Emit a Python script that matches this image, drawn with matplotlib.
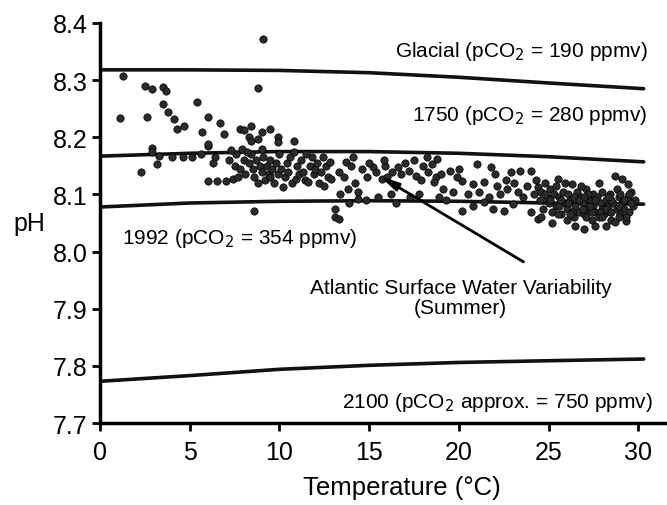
import numpy as np
import matplotlib.pyplot as plt

plt.rcParams['font.family'] = ['Liberation Sans', 'DejaVu Sans']

# reference curves (pH vs temperature)
line_temp = [0, 5, 10, 15, 20, 25, 30.3]
glacial_ph = [8.318, 8.318, 8.317, 8.313, 8.305, 8.295, 8.285]
ph_1750 = [8.167, 8.172, 8.175, 8.175, 8.172, 8.166, 8.157]
ph_1992 = [8.078, 8.085, 8.088, 8.089, 8.088, 8.085, 8.083]
ph_2100 = [7.773, 7.783, 7.794, 7.801, 7.806, 7.809, 7.812]

obs = [
    # cold, high pH
    (1.1, 8.234), (1.3, 8.307), (2.5, 8.29), (2.9, 8.285), (3.5, 8.288), (3.7, 8.281),
    (2.6, 8.235), (3.5, 8.258), (3.8, 8.244), (4.1, 8.232), (4.3, 8.214), (4.7, 8.22),
    (5.4, 8.262), (6.0, 8.235), (5.7, 8.209), (6.0, 8.185), (2.9, 8.181), (6.7, 8.225),
    (6.9, 8.206), (7.8, 8.215), (8.0, 8.213), (8.4, 8.22), (8.3, 8.2), (8.4, 8.194),
    (8.8, 8.197), (9.0, 8.209), (9.5, 8.214), (9.9, 8.2), (9.9, 8.192), (10.8, 8.194),
    (8.8, 8.286), (9.1, 8.372),
    # cold, mid pH
    (2.3, 8.139), (3.2, 8.153), (2.9, 8.174), (3.3, 8.167), (4.0, 8.165), (4.6, 8.165),
    (5.1, 8.165), (6.0, 8.188), (6.4, 8.165), (6.0, 8.123), (6.5, 8.123), (7.0, 8.123),
    (7.4, 8.127), (5.6, 8.17), (6.3, 8.155),
    # 7-13 C
    (7.2, 8.16), (7.5, 8.15), (7.6, 8.17), (7.8, 8.145), (8.0, 8.16), (8.1, 8.135),
    (8.3, 8.155), (8.4, 8.17), (8.5, 8.145), (8.6, 8.13), (8.7, 8.16), (8.9, 8.15),
    (9.0, 8.14), (9.1, 8.165), (9.2, 8.125), (9.3, 8.15), (9.4, 8.135), (9.5, 8.16),
    (9.6, 8.145), (9.7, 8.12), (9.8, 8.155), (9.9, 8.135), (10.0, 8.17), (10.1, 8.145),
    (10.2, 8.113), (10.3, 8.13), (10.4, 8.155), (10.5, 8.14), (10.6, 8.165), (10.7, 8.12),
    (10.9, 8.127), (11.0, 8.15), (11.1, 8.135), (11.2, 8.16), (11.3, 8.14), (11.4, 8.125),
    (11.6, 8.122), (11.7, 8.15), (11.8, 8.165), (11.9, 8.135), (12.0, 8.145), (12.1, 8.155),
    (12.2, 8.12), (12.3, 8.14), (12.5, 8.115), (12.6, 8.15), (12.7, 8.13), (12.8, 8.157),
    (7.3, 8.178), (7.9, 8.18), (8.2, 8.175), (9.0, 8.18), (10.8, 8.175), (11.5, 8.17),
    (8.6, 8.071), (13.1, 8.06), (12.4, 8.165), (7.7, 8.13), (8.8, 8.12), (9.5, 8.13),
    # 13-18.5 C
    (13.3, 8.14), (12.9, 8.127), (13.4, 8.1), (13.1, 8.074), (13.3, 8.057), (13.8, 8.109),
    (14.4, 8.104), (14.4, 8.092), (14.6, 8.145), (15.2, 8.148), (15.4, 8.14), (14.9, 8.13),
    (15.7, 8.127), (16.3, 8.14), (16.6, 8.148), (17.2, 8.141), (17.6, 8.132), (18.0, 8.15),
    (18.3, 8.14), (18.5, 8.153), (13.7, 8.157), (14.0, 8.15), (13.6, 8.13), (14.2, 8.12),
    (15.0, 8.155), (15.9, 8.15), (16.0, 8.13), (16.8, 8.135), (17.0, 8.155), (17.5, 8.16),
    (17.9, 8.125), (18.2, 8.165), (18.7, 8.13), (14.8, 8.09), (15.5, 8.095), (16.2, 8.1),
    (16.5, 8.085), (17.3, 8.095), (17.8, 8.1), (13.9, 8.085), (14.1, 8.165), (15.8, 8.16),
    # 18.5-24.5 C
    (18.8, 8.162), (19.5, 8.141), (21.0, 8.153), (21.8, 8.148), (20.2, 8.123), (20.8, 8.118),
    (21.4, 8.121), (22.1, 8.115), (22.9, 8.14), (23.4, 8.141), (24.0, 8.141), (22.7, 8.109),
    (23.3, 8.104), (23.8, 8.115), (24.4, 8.113), (18.6, 8.121), (19.1, 8.109), (19.7, 8.104),
    (20.2, 8.071), (20.8, 8.08), (21.4, 8.087), (21.9, 8.074), (22.5, 8.071), (23.0, 8.083),
    (24.0, 8.069), (24.4, 8.057), (19.0, 8.135), (19.9, 8.13), (20.5, 8.1), (21.1, 8.105),
    (21.7, 8.095), (22.3, 8.1), (22.6, 8.125), (23.1, 8.12), (23.6, 8.095), (24.2, 8.1),
    (20.0, 8.145), (19.3, 8.09), (22.0, 8.135), (24.3, 8.125), (18.9, 8.095),
    # warm cluster
    (24.5, 8.09), (24.6, 8.105), (24.7, 8.075), (24.8, 8.12), (24.9, 8.095), (25.0, 8.085),
    (25.1, 8.11), (25.2, 8.07), (25.3, 8.1), (25.4, 8.08), (25.5, 8.127), (25.6, 8.095),
    (25.7, 8.065), (25.8, 8.105), (25.9, 8.085), (26.0, 8.075), (26.1, 8.1), (26.2, 8.09),
    (26.3, 8.118), (26.4, 8.06), (26.5, 8.045), (26.5, 8.08), (26.6, 8.105), (26.7, 8.07),
    (26.8, 8.095), (26.9, 8.085), (27.0, 8.04), (27.0, 8.065), (27.1, 8.11), (27.2, 8.075),
    (27.3, 8.09), (27.4, 8.055), (27.5, 8.1), (27.5, 8.08), (27.6, 8.07), (27.7, 8.095),
    (27.8, 8.06), (27.9, 8.085), (28.0, 8.075), (28.0, 8.105), (28.1, 8.065), (28.2, 8.09),
    (28.3, 8.08), (28.4, 8.07), (28.4, 8.1), (28.5, 8.055), (28.6, 8.085), (28.7, 8.132),
    (28.7, 8.052), (28.8, 8.075), (28.9, 8.095), (29.0, 8.065), (29.1, 8.127), (29.1, 8.085),
    (29.2, 8.075), (29.3, 8.053), (29.4, 8.118), (29.4, 8.095), (29.5, 8.07), (29.6, 8.105),
    (29.7, 8.08), (29.8, 8.09), (25.2, 8.05), (26.0, 8.055), (27.6, 8.045), (28.2, 8.045),
    (26.8, 8.115), (27.8, 8.12), (25.9, 8.12), (24.6, 8.06), (27.2, 8.1), (28.8, 8.11),
    (29.0, 8.1), (26.3, 8.07), (25.6, 8.08), (27.4, 8.07), (28.5, 8.09), (29.3, 8.06),
    (24.8, 8.1), (25.1, 8.09), (25.4, 8.115), (25.7, 8.09), (26.1, 8.085), (26.4, 8.095),
    (26.7, 8.09), (27.0, 8.095), (27.3, 8.08), (27.6, 8.09), (27.9, 8.07), (28.2, 8.075),
    (28.5, 8.07), (28.9, 8.08), (29.2, 8.09), (29.6, 8.085), (26.2, 8.065), (27.1, 8.06),
    (28.0, 8.06), (28.9, 8.06), (25.5, 8.065), (26.9, 8.075), (28.3, 8.095), (29.5, 8.1),
]
obs_temp = [t for t, p in obs]
obs_ph = [p for t, p in obs]

fig = plt.figure(figsize=(6.67, 5.06), dpi=100)
ax = fig.add_axes([0.15, 0.162, 0.85, 0.7906])

for ph in (glacial_ph, ph_1750, ph_1992, ph_2100):
    ax.plot(line_temp, ph, color='#111111', lw=2.6, solid_capstyle='round', zorder=2)

ax.scatter(obs_temp, obs_ph, s=28, color='#2b2b2b', edgecolor='black', linewidth=0.5, zorder=3)

txt = dict(fontsize=15, color='black')
ax.text(30.5, 8.352, 'Glacial (pCO$_2$ = 190 ppmv)', ha='right', va='center', **txt)
ax.text(30.5, 8.240, '1750 (pCO$_2$ = 280 ppmv)', ha='right', va='center', **txt)
ax.text(1.2, 8.025, '1992 (pCO$_2$ = 354 ppmv)', ha='left', va='center', **txt)
ax.text(30.8, 7.738, '2100 (pCO$_2$ approx. = 750 ppmv)', ha='right', va='center', **txt)
ax.text(20.1, 7.92, 'Atlantic Surface Water Variability\n(Summer)', ha='center', va='center',
        linespacing=1.1, **txt)
ax.annotate('', xy=(15.6, 8.132), xytext=(23.6, 7.982),
            arrowprops=dict(arrowstyle='-|>,head_length=1.1,head_width=0.25', color='black',
                            lw=2, shrinkA=0, shrinkB=0), zorder=4)

ax.set_xlim(0, 31.6)
ax.set_ylim(7.7, 8.4)
ax.set_xticks([0, 5, 10, 15, 20, 25, 30])
ax.set_yticks([7.7, 7.8, 7.9, 8.0, 8.1, 8.2, 8.3, 8.4])
ax.set_yticklabels(['7.7', '7.8', '7.9', '8.0', '8.1', '8.2', '8.3', '8.4'])
ax.spines['top'].set_visible(False)
ax.spines['right'].set_visible(False)
ax.spines['left'].set_linewidth(2.5)
ax.spines['bottom'].set_linewidth(2.5)
ax.tick_params(axis='both', width=2, length=6, labelsize=18, direction='out')
ax.tick_params(axis='y', pad=3)
ax.tick_params(axis='x', pad=6)

ax.set_ylabel('pH', rotation=0, fontsize=18, ha='center', va='center')
ax.yaxis.set_label_coords(-0.125, 0.5)
ax.set_xlabel('Temperature (°C)', fontsize=18.5, va='center')
ax.xaxis.set_label_coords(0.533, -0.16)

fig.savefig('out.png', dpi=100)
